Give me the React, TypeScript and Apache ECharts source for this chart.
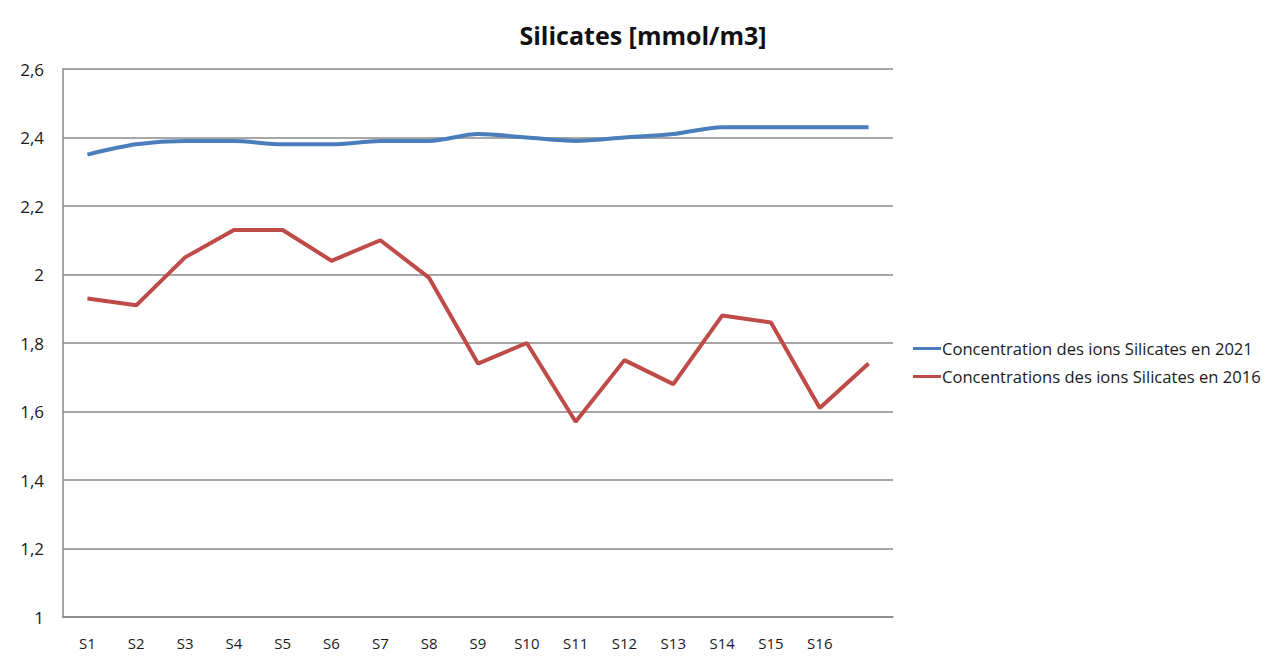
import React, { useEffect, useRef } from "react";
import * as echarts from "echarts";

const categories = ["S1", "S2", "S3", "S4", "S5", "S6", "S7", "S8", "S9", "S10", "S11", "S12", "S13", "S14", "S15", "S16", ""];
const series2021 = [2.35, 2.38, 2.39, 2.39, 2.38, 2.38, 2.39, 2.39, 2.41, 2.4, 2.39, 2.4, 2.41, 2.43, 2.43, 2.43, 2.43];
const series2016 = [1.93, 1.91, 2.05, 2.13, 2.13, 2.04, 2.1, 1.99, 1.74, 1.8, 1.57, 1.75, 1.68, 1.88, 1.86, 1.61, 1.74];
const name2021 = "Concentration des ions Silicates en 2021";
const name2016 = "Concentrations des ions Silicates en 2016";
const titleText = "Silicates [mmol/m3]";

export default function App() {
  const ref = useRef<HTMLDivElement>(null);
  useEffect(() => {
    if (!ref.current) return;
    const chart = echarts.init(ref.current, null, { renderer: "svg" });
    const font = "'Open Sans', 'Noto Sans', sans-serif";
    chart.setOption({
      animation: false,
      backgroundColor: "#ffffff",
      title: {
        text: titleText,
        left: 638,
        textAlign: "center",
        top: 17,
        textStyle: { fontFamily: font, fontWeight: "bold", fontSize: 25, color: "#111" },
      },
      grid: { left: 63, right: 389, top: 69, bottom: 40 },
      legend: {
        orient: "vertical",
        left: 908,
        top: 335,
        itemGap: 11,
        itemWidth: 28,
        itemHeight: 3,
        icon: "rect",
        textStyle: { fontFamily: font, fontSize: 16.6, color: "#1a1a1a", padding: [0, 0, 0, -4] },
        data: [name2021, name2016],
      },
      xAxis: {
        type: "category",
        data: categories,
        boundaryGap: true,
        axisLine: { show: true, lineStyle: { color: "#888", width: 1.5 } },
        axisTick: { show: false },
        axisLabel: { interval: 0, margin: 18, fontFamily: font, fontSize: 15, lineHeight: 16, color: "#1a1a1a" },
      },
      yAxis: {
        type: "value",
        min: 1,
        max: 2.6,
        interval: 0.2,
        axisLine: { show: true, lineStyle: { color: "#888", width: 1.5 } },
        axisTick: { show: false },
        splitLine: { show: true, lineStyle: { color: "#8a8a8a", width: 1.5 } },
        axisLabel: {
          margin: 19,
          fontFamily: font,
          fontSize: 17,
          color: "#1a1a1a",
          formatter: (v: number) => {
            const r = Math.round(v * 10) / 10;
            return String(r).replace(".", ",");
          },
        },
      },
      series: [
        {
          name: name2021,
          type: "line",
          data: series2021,
          smooth: 0.3,
          showSymbol: false,
          symbol: "none",
          color: "#4A7EBB",
          lineStyle: { width: 4, color: "#4A7EBB" },
        },
        {
          name: name2016,
          type: "line",
          data: series2016,
          showSymbol: false,
          symbol: "none",
          color: "#BE4B48",
          lineStyle: { width: 4, color: "#BE4B48" },
        },
      ],
    });
    return () => chart.dispose();
  }, []);
  return (
    <div
      ref={ref}
      style={{ position: "fixed", left: 0, top: 0, width: 1282, height: 657, background: "#fff" }}
    />
  );
}
